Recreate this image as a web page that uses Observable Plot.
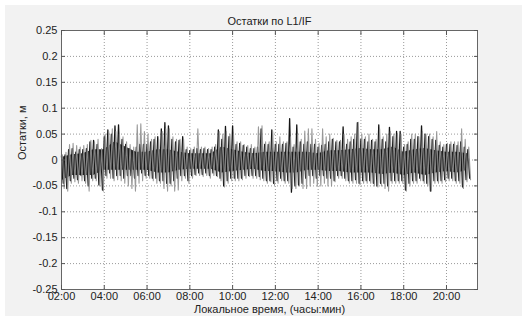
<!DOCTYPE html>
<html>
<head>
<meta charset="utf-8">
<script src="https://cdn.jsdelivr.net/npm/d3@7"></script>
<script src="https://cdn.jsdelivr.net/npm/@observablehq/plot@0.6"></script>
<style>
  html, body { margin: 0; padding: 0; background: #ffffff; }
  #fig { position: relative; width: 527px; height: 320px; overflow: hidden; }
  #fig::before { content: ""; position: absolute; left: 5px; top: 5px; right: 5px; bottom: 4px; background: #f2f2f2; }
  #fig svg { position: relative; display: block; }
</style>
</head>
<body>
<div id="fig"></div>
<script>
// Labels
const title = "Остатки по L1/IF";
const xLabel = "Локальное время, (часы:мин)";
const yLabel = "Остатки, м";

// Axis ticks (x in hours of local time, y in metres)
const xTicks = [2, 4, 6, 8, 10, 12, 14, 16, 18, 20];
const xTickLabels = ["02:00", "04:00", "06:00", "08:00", "10:00", "12:00", "14:00", "16:00", "18:00", "20:00"];
const yTicks = [-0.25, -0.2, -0.15, -0.1, -0.05, 0, 0.05, 0.1, 0.15, 0.2, 0.25];
const yTickLabels = ["-0.25", "-0.2", "-0.15", "-0.1", "-0.05", "0", "0.05", "0.1", "0.15", "0.2", "0.25"];

// Residual envelopes in millimetres, one value per 10-minute slot from 02:00
const startHour = 2;
const slotMinutes = 10;
const blackHi = [
   8, 10, 20, 22, 15, 20,
  20, 22, 35, 38, 30, 18,
  45, 58, 50, 66, 68, 40,
  30, 22, 15, 25, 30, 30,
  30, 35, 40, 45, 60, 72,
  66, 40, 35, 38, 45, 20,
  18, 20, 22, 20, 22, 20,
  20, 25, 58, 40, 65, 45,
  66, 30, 32, 28, 25, 22,
  22, 25, 60, 30, 30, 58,
  30, 30, 30, 32, 80, 25,
  68, 35, 30, 35, 30, 30,
  25, 28, 30, 35, 40, 35,
  35, 64, 30, 35, 40, 72,
  40, 40, 35, 38, 35, 68,
  40, 35, 63, 45, 55, 55,
  25, 30, 40, 40, 45, 66,
  50, 45, 40, 38, 28, 25,
  30, 30, 30, 28, 35, 25,
  20
];
const blackLo = [
  -45, -55, -40, -35, -38, -30,
  -40, -50, -35, -35, -48, -58,
  -30, -25, -35, -30, -30, -35,
  -30, -30, -35, -30, -25, -30,
  -30, -35, -35, -40, -40, -45,
  -45, -40, -35, -30, -30, -40,
  -30, -28, -25, -28, -25, -30,
  -25, -30, -35, -50, -40, -35,
  -35, -35, -35, -30, -30, -30,
  -30, -32, -35, -40, -40, -45,
  -40, -35, -40, -40, -62, -50,
  -48, -45, -35, -30, -30, -35,
  -30, -30, -35, -35, -40, -30,
  -30, -35, -40, -40, -38, -45,
  -40, -40, -40, -45, -50, -45,
  -45, -50, -40, -40, -40, -40,
  -58, -45, -40, -40, -35, -40,
  -45, -60, -40, -40, -40, -38,
  -35, -35, -40, -40, -52, -38,
  -35
];
const grayHi = [
  10, 15, 30, 32, 28, 25,
  28, 30, 38, 35, 40, 22,
  50, 55, 60, 55, 50, 45,
  35, 30, 25, 68, 70, 55,
  50, 40, 45, 40, 55, 60,
  60, 45, 40, 40, 40, 25,
  22, 25, 60, 25, 25, 22,
  25, 30, 55, 50, 55, 50,
  50, 35, 35, 30, 28, 30,
  25, 64, 66, 35, 35, 55,
  35, 45, 35, 35, 45, 30,
  50, 40, 56, 60, 60, 40,
  32, 60, 45, 50, 42, 38,
  38, 50, 40, 45, 50, 73,
  50, 45, 50, 40, 40, 60,
  45, 50, 55, 50, 50, 50,
  30, 35, 50, 50, 45, 55,
  50, 50, 45, 55, 35, 30,
  32, 35, 35, 35, 60, 40,
  25
];
const grayLo = [
  -55, -60, -45, -42, -45, -40,
  -45, -60, -40, -40, -50, -60,
  -35, -35, -40, -38, -40, -45,
  -50, -55, -60, -45, -40, -35,
  -35, -40, -45, -45, -55, -60,
  -50, -60, -58, -40, -35, -45,
  -35, -30, -30, -32, -30, -35,
  -30, -32, -40, -52, -45, -40,
  -40, -40, -38, -35, -32, -35,
  -35, -38, -40, -45, -42, -48,
  -45, -40, -45, -45, -55, -55,
  -50, -55, -55, -50, -45, -50,
  -50, -45, -50, -50, -42, -35,
  -35, -40, -45, -45, -45, -48,
  -45, -45, -45, -50, -52, -50,
  -55, -60, -45, -45, -45, -45,
  -60, -50, -45, -45, -40, -45,
  -50, -60, -45, -45, -45, -42,
  -40, -40, -45, -45, -55, -42,
  -38
];

// Dense core of the overlapping traces, mm, every 30 minutes from 02:00
const coreMinutes = 30;
const coreHi = [5, 10, 12, 20, 20, 35, 25, 15, 15, 20, 20, 15, 12, 12, 12, 25, 20, 15, 12, 15,
  15, 15, 15, 15, 12, 18, 18, 20, 22, 20, 20, 25, 15, 20, 22, 18, 15, 15, 12];
const coreLo = [-40, -30, -30, -30, -20, -20, -20, -20, -20, -25, -25, -20, -18, -18, -18, -25, -22, -20, -18, -22,
  -22, -25, -25, -20, -20, -22, -22, -25, -25, -25, -28, -25, -30, -25, -30, -25, -22, -25, -20];

// Each slot is drawn as a swing from its high value to its low value,
// which gives the dense spiky look of the residual traces.
function swing(hi, lo, offsetMin) {
  const pts = [];
  hi.forEach((h, i) => {
    const m = i * slotMinutes + offsetMin;
    pts.push({t: startHour + m / 60, v: h / 1000});
    pts.push({t: startHour + (m + slotMinutes / 2) / 60, v: lo[i] / 1000});
  });
  return pts;
}
const grayTrace = swing(grayHi, grayLo, 2.5);
const blackTrace = swing(blackHi, blackLo, 0);
const core = coreHi.map((h, i) => ({t: startHour + Math.min(i * coreMinutes, 1145) / 60, hi: h / 1000, lo: coreLo[i] / 1000}));

const fmt = (ticks, labels) => d => labels[ticks.indexOf(d)];

const chart = Plot.plot({
  width: 527,
  height: 320,
  marginLeft: 61,
  marginRight: 50,
  marginTop: 30,
  marginBottom: 31,
  style: {fontFamily: "'Liberation Sans', Arial, sans-serif", fontSize: "11px", color: "#222", background: "transparent"},
  x: {domain: [2, 21.45]},
  y: {domain: [-0.25, 0.25]},
  marks: [
    Plot.frame({fill: "white", stroke: "none"}),
    Plot.gridX(xTicks, {stroke: "#9a9a9a", strokeOpacity: 1, strokeDasharray: "1,2"}),
    Plot.gridY(yTicks, {stroke: "#9a9a9a", strokeOpacity: 1, strokeDasharray: "1,2"}),
    Plot.areaY(core, {x: "t", y1: "lo", y2: "hi", fill: "#2a2a2a"}),
    Plot.line(blackTrace, {x: "t", y: "v", stroke: "#151515", strokeWidth: 1.3}),
    Plot.line(grayTrace, {x: "t", y: "v", stroke: "#8f8f8f", strokeWidth: 1.1, strokeOpacity: 0.9}),
    Plot.frame({stroke: "#666"}),
    Plot.axisX(xTicks, {anchor: "bottom", tickSize: -4, fill: "none", stroke: "#555", label: null}),
    Plot.axisX(xTicks, {anchor: "top", tickSize: -4, fill: "none", stroke: "#555", label: null}),
    Plot.axisY(yTicks, {anchor: "left", tickSize: -4, fill: "none", stroke: "#555", label: null}),
    Plot.axisY(yTicks, {anchor: "right", tickSize: -4, fill: "none", stroke: "#555", label: null}),
    Plot.axisX(xTicks, {anchor: "bottom", tickSize: 0, tickPadding: 3, stroke: "none", fill: "#222", tickFormat: fmt(xTicks, xTickLabels), label: null}),
    Plot.axisY(yTicks, {anchor: "left", tickSize: 0, tickPadding: 4, stroke: "none", fill: "#222", tickFormat: fmt(yTicks, yTickLabels), label: null}),
    Plot.text([title], {frameAnchor: "top", dy: -13, fill: "#222", fontSize: 11}),
    Plot.text([xLabel], {frameAnchor: "bottom", dy: 23, fill: "#222", fontSize: 11}),
    Plot.text([yLabel], {frameAnchor: "left", dx: -39, rotate: -90, fill: "#222", fontSize: 11})
  ]
});
document.getElementById("fig").appendChild(chart);
</script>
</body>
</html>
